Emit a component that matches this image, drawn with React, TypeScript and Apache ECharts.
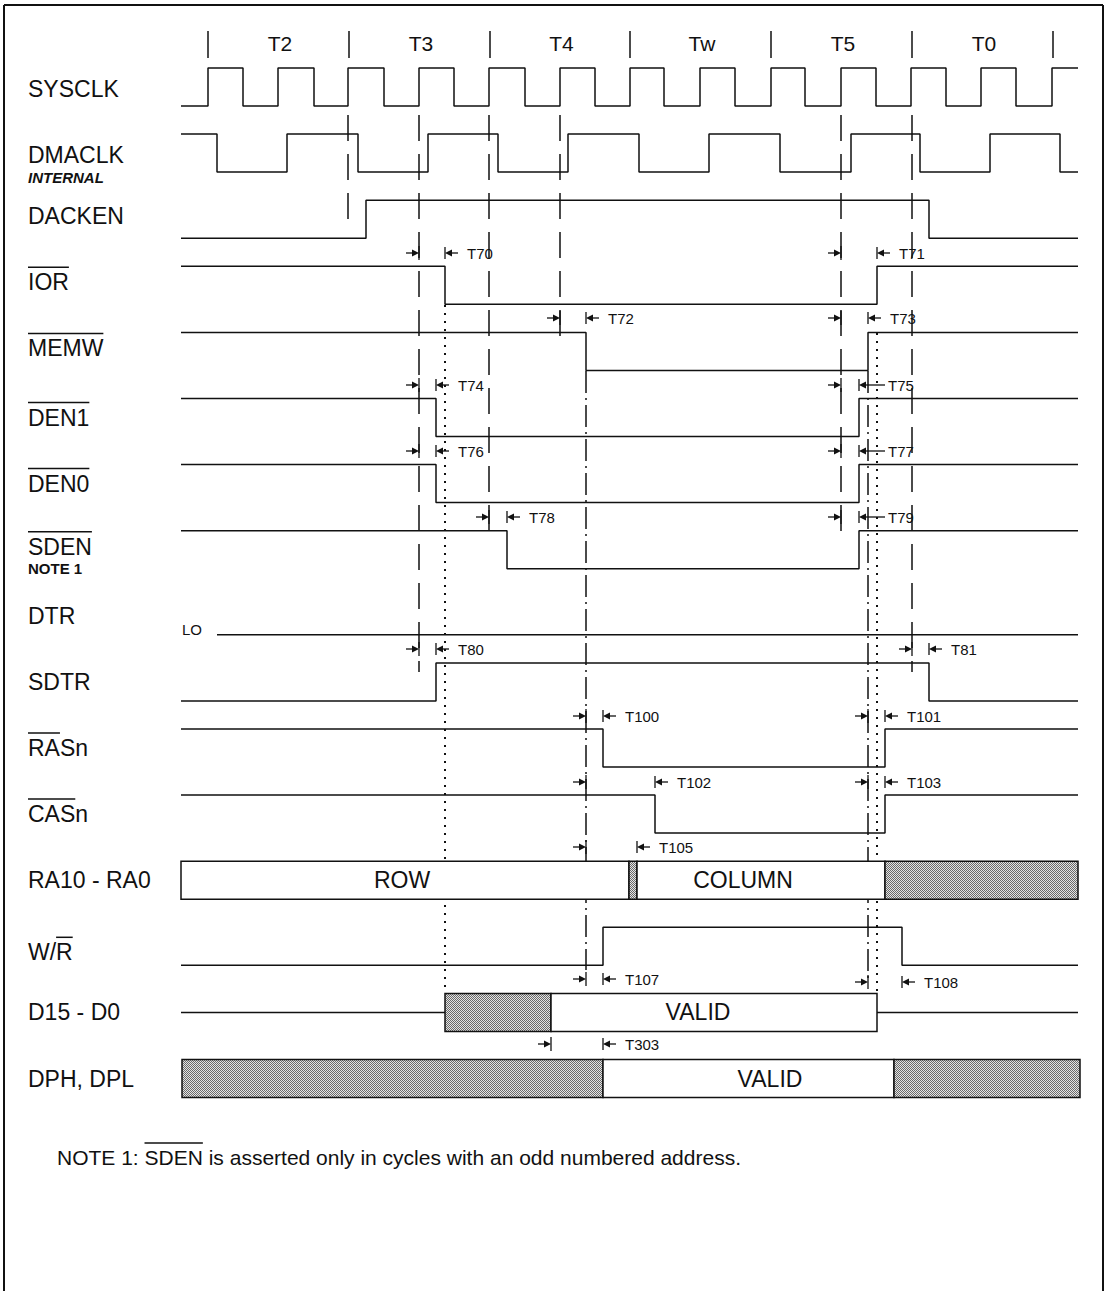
import React, { useEffect, useRef } from "react";
import * as echarts from "echarts";

// ---------------- data ----------------
const STATE_BOUNDS = [208, 349, 490, 630, 771, 912, 1053];
const STATE_LABELS = ["T2", "T3", "T4", "Tw", "T5", "T0"];

const SIGNAL_LABELS = [
  "SYSCLK", "DMACLK", "DACKEN", "IOR", "MEMW", "DEN1", "DEN0", "SDEN",
  "DTR", "SDTR", "RASn", "CASn", "RA10 - RA0", "W/R", "D15 - D0", "DPH, DPL",
];
const SUB_LABELS: Record<number, string> = { 1: "INTERNAL", 7: "NOTE 1" };
// [unbarred prefix, barred part]
const OVERLINES: Record<string, [string, string]> = {
  IOR: ["", "IOR"], MEMW: ["", "MEMW"], DEN1: ["", "DEN1"], DEN0: ["", "DEN0"],
  SDEN: ["", "SDEN"], RASn: ["", "RA"], CASn: ["", "CAS"], "W/R": ["W/", "R"],
};

const TRACE_START = 181;
const TRACE_END = 1078;
const SYSCLK_EDGES = [208, 243, 278, 314, 348, 384, 419, 454, 489, 525, 560, 595, 630, 664, 700, 735, 771, 805, 841, 876, 911, 946, 981, 1016, 1052];
const DMACLK_EDGES = [217, 287, 358, 428, 498, 568, 639, 709, 780, 851, 920, 990, 1060];
const DACKEN_EDGES = [366, 929];
const IOR_EDGES = [445, 877];
const MEMW_EDGES = [586, 868];
const DEN1_EDGES = [436, 859];
const DEN0_EDGES = [436, 859];
const SDEN_EDGES = [507, 859];
const DTR_EDGES: number[] = [];
const SDTR_EDGES = [436, 929];
const RAS_EDGES = [603, 885];
const CAS_EDGES = [655, 885];
const WR_EDGES = [603, 902];

// [row, initial level (1 = high), edges, start]
const WAVES: [number, number, number[], number][] = [
  [0, 0, SYSCLK_EDGES, TRACE_START],
  [1, 1, DMACLK_EDGES, TRACE_START],
  [2, 0, DACKEN_EDGES, TRACE_START],
  [3, 1, IOR_EDGES, TRACE_START],
  [4, 1, MEMW_EDGES, TRACE_START],
  [5, 1, DEN1_EDGES, TRACE_START],
  [6, 1, DEN0_EDGES, TRACE_START],
  [7, 1, SDEN_EDGES, TRACE_START],
  [8, 0, DTR_EDGES, 217],
  [9, 0, SDTR_EDGES, TRACE_START],
  [10, 1, RAS_EDGES, TRACE_START],
  [11, 1, CAS_EDGES, TRACE_START],
  [13, 0, WR_EDGES, TRACE_START],
];

// bus segments: [from, to, text ("" = undefined / hatched), text centre]
const RA_SEGMENTS: [number, number, string, number][] = [
  [181, 629, "ROW", 402], [629, 637, "", 0], [637, 885, "COLUMN", 743], [885, 1078, "", 0],
];
const D_SEGMENTS: [number, number, string, number][] = [
  [445, 551, "", 0], [551, 877, "VALID", 698],
];
const D_IDLE: [number, number][] = [[181, 445], [877, 1078]];
const DP_SEGMENTS: [number, number, string, number][] = [
  [182, 603, "", 0], [603, 894, "VALID", 770], [894, 1080, "", 0],
];

// guides: [x, yFrom, yTo]
const GUIDES_DASHED = [[348, 115, 225], [419, 115, 672], [489, 115, 540], [560, 115, 342], [841, 115, 540], [912, 115, 672]];
const GUIDES_DASHDOT = [[586, 371, 970], [868, 371, 982]];
const GUIDES_DOTTED = [[445, 305, 993], [877, 333, 993]];

// timing annotations: [name, y, reference x, edge x]
const TIMINGS: [string, number, number, number][] = [
  ["T70", 253, 419, 445], ["T71", 253, 841, 877],
  ["T72", 318, 560, 586], ["T73", 318, 841, 868],
  ["T74", 385, 419, 436], ["T75", 385, 841, 859],
  ["T76", 451, 419, 436], ["T77", 451, 841, 859],
  ["T78", 517, 489, 507], ["T79", 517, 841, 859],
  ["T80", 649, 419, 436], ["T81", 649, 912, 929],
  ["T100", 716, 586, 603], ["T101", 716, 868, 885],
  ["T102", 782, 586, 655], ["T103", 782, 868, 885],
  ["T105", 847, 586, 637],
  ["T107", 979, 586, 603], ["T108", 982, 868, 902],
  ["T303", 1044, 551, 603],
];
const LONG_TAIL = ["T75", "T77", "T79"];

const NOTE_TEXT = "NOTE 1: SDEN is asserted only in cycles with an odd numbered address.";

// ---------------- layout ----------------
const W = 1111;
const H = 1291;
const FONT = '"Liberation Sans", Arial, Helvetica, sans-serif';
const INK = "#111";
const ROW_TOP0 = 68;
const ROW_PITCH = 66.1;
const ROW_H = 38;
const LABEL_X = 28;
const LABEL_DY: Record<number, number> = { 0: 21, 1: 21, 2: 16, 3: 16, 4: 16, 7: 16, 13: 25 };
const rowTop = (r: number) => ROW_TOP0 + ROW_PITCH * r;

let measureCtx: CanvasRenderingContext2D | null = null;
function textWidth(t: string, size: number, weight = "normal") {
  if (!t) return 0;
  if (!measureCtx) measureCtx = document.createElement("canvas").getContext("2d");
  if (!measureCtx) return t.length * size * 0.6;
  measureCtx.font = `${weight} ${size}px "Liberation Sans", Arial, sans-serif`;
  return measureCtx.measureText(t).width;
}

function makeHatch(): any {
  try {
    const c = document.createElement("canvas");
    c.width = 2;
    c.height = 2;
    const g = c.getContext("2d");
    if (!g) return "#b4b4b4";
    g.fillStyle = "#e4e4e4";
    g.fillRect(0, 0, 2, 2);
    g.fillStyle = "#6a6a6a";
    g.fillRect(0, 0, 1, 1);
    g.fillRect(1, 1, 1, 1);
    return { image: c, repeat: "repeat", imageWidth: 2, imageHeight: 2 };
  } catch (e) {
    return "#b4b4b4";
  }
}

function wavePoints(row: number, init: number, edges: number[], start: number) {
  const hi = rowTop(row);
  const lo = hi + ROW_H;
  const yOf = (l: number) => (l ? hi : lo);
  let level = init;
  const pts: number[][] = [[start, yOf(level)]];
  for (const e of edges) {
    pts.push([e, yOf(level)]);
    level = 1 - level;
    pts.push([e, yOf(level)]);
  }
  pts.push([TRACE_END, yOf(level)]);
  return pts;
}

function lineSeries(data: number[][], width: number, type: any = "solid", z = 2) {
  return {
    type: "line",
    data,
    symbol: "none",
    showSymbol: false,
    silent: true,
    z,
    lineStyle: { color: INK, width, type, cap: "butt" },
    emphasis: { disabled: true },
  };
}

function buildOption() {
  const hatch = makeHatch();
  const series: any[] = [];

  // guides
  GUIDES_DASHED.forEach(([x, a, b]) => series.push(lineSeries([[x, a], [x, b]], 1.5, [26, 13], 1)));
  GUIDES_DASHDOT.forEach(([x, a, b]) => series.push(lineSeries([[x, a], [x, b]], 1.5, [22, 5, 2, 5], 1)));
  GUIDES_DOTTED.forEach(([x, a, b]) => series.push(lineSeries([[x, a], [x, b]], 2, [2, 6], 1)));

  // waveforms
  WAVES.forEach(([row, init, edges, start]) => series.push(lineSeries(wavePoints(row, init, edges, start), 1.5)));
  D_IDLE.forEach(([a, b]) => {
    const y = rowTop(14) + ROW_H / 2;
    series.push(lineSeries([[a, y], [b, y]], 1.5));
  });

  // buses
  const busItems: { row: number; seg: [number, number, string, number] }[] = [];
  RA_SEGMENTS.forEach((s) => busItems.push({ row: 12, seg: s }));
  D_SEGMENTS.forEach((s) => busItems.push({ row: 14, seg: s }));
  DP_SEGMENTS.forEach((s) => busItems.push({ row: 15, seg: s }));
  series.push({
    type: "custom",
    z: 3,
    silent: true,
    data: busItems.map((it) => [it.seg[0], rowTop(it.row), it.seg[1], rowTop(it.row) + ROW_H]),
    encode: { x: [0, 2], y: [1, 3] },
    renderItem: (params: any, api: any) => {
      const it = busItems[params.dataIndex];
      const p1 = api.coord([api.value(0), api.value(1)]);
      const p2 = api.coord([api.value(2), api.value(3)]);
      const children: any[] = [
        {
          type: "rect",
          shape: { x: p1[0], y: p1[1], width: p2[0] - p1[0], height: p2[1] - p1[1] },
          style: { fill: it.seg[2] ? "#fff" : hatch, stroke: INK, lineWidth: 1.5 },
        },
      ];
      if (it.seg[2]) {
        const c = api.coord([it.seg[3], (api.value(1) + api.value(3)) / 2]);
        children.push({
          type: "text",
          x: c[0],
          y: c[1],
          style: { text: it.seg[2], fontSize: 23, fontFamily: FONT, fill: INK, align: "center", verticalAlign: "middle" },
        });
      }
      return { type: "group", children };
    },
  });

  // timing annotations
  series.push({
    type: "custom",
    z: 4,
    silent: true,
    data: TIMINGS.map((t) => [t[2], t[1], t[3]]),
    encode: { x: [0, 2], y: 1 },
    renderItem: (params: any, api: any) => {
      const name = TIMINGS[params.dataIndex][0];
      const a = api.coord([api.value(0), api.value(1)]);
      const b = api.coord([api.value(2), api.value(1)]);
      const y = a[1];
      const long = LONG_TAIL.indexOf(name) >= 0;
      const tail = long ? 26 : 13;
      const gap = long ? 29 : 22;
      const st = { stroke: INK, lineWidth: 1.3 };
      return {
        type: "group",
        children: [
          { type: "line", shape: { x1: a[0] - 13, y1: y, x2: a[0] - 5, y2: y }, style: st },
          { type: "polygon", shape: { points: [[a[0], y], [a[0] - 7, y - 3.5], [a[0] - 7, y + 3.5]] }, style: { fill: INK } },
          { type: "line", shape: { x1: a[0], y1: y - 7, x2: a[0], y2: y + 7 }, style: st },
          { type: "line", shape: { x1: b[0], y1: y - 6, x2: b[0], y2: y + 6 }, style: st },
          { type: "polygon", shape: { points: [[b[0], y], [b[0] + 7, y - 3.5], [b[0] + 7, y + 3.5]] }, style: { fill: INK } },
          { type: "line", shape: { x1: b[0] + 5, y1: y, x2: b[0] + tail, y2: y }, style: st },
          {
            type: "text",
            x: b[0] + gap,
            y: y,
            style: { text: name, fontSize: 15, fontFamily: FONT, fill: INK, align: "left", verticalAlign: "middle" },
          },
        ],
      };
    },
  });

  // T-state markers
  series.push({
    type: "custom",
    z: 4,
    silent: true,
    data: STATE_BOUNDS.map((x) => [x, 31, 58]),
    encode: { x: 0, y: [1, 2] },
    renderItem: (params: any, api: any) => {
      const p1 = api.coord([api.value(0), api.value(1)]);
      const p2 = api.coord([api.value(0), api.value(2)]);
      return { type: "line", shape: { x1: p1[0], y1: p1[1], x2: p2[0], y2: p2[1] }, style: { stroke: INK, lineWidth: 1.5 } };
    },
  });
  series.push({
    type: "custom",
    z: 4,
    silent: true,
    data: STATE_LABELS.map((_, i) => [(STATE_BOUNDS[i] + STATE_BOUNDS[i + 1]) / 2 + 1.5, 43]),
    renderItem: (params: any, api: any) => {
      const p = api.coord([api.value(0), api.value(1)]);
      return {
        type: "text",
        x: p[0],
        y: p[1],
        style: { text: STATE_LABELS[params.dataIndex], fontSize: 21, fontFamily: FONT, fill: INK, align: "center", verticalAlign: "middle" },
      };
    },
  });

  // signal names
  series.push({
    type: "custom",
    z: 5,
    silent: true,
    data: SIGNAL_LABELS.map((_, i) => [LABEL_X, rowTop(i) + (LABEL_DY[i] ?? 19)]),
    renderItem: (params: any, api: any) => {
      const i = params.dataIndex;
      const name = SIGNAL_LABELS[i];
      const p = api.coord([api.value(0), api.value(1)]);
      const children: any[] = [
        {
          type: "text",
          x: p[0],
          y: p[1],
          style: { text: name, fontSize: 23, fontFamily: FONT, fill: INK, align: "left", verticalAlign: "middle" },
        },
      ];
      const ov = OVERLINES[name];
      if (ov) {
        const x0 = p[0] + textWidth(ov[0], 23);
        const x1 = x0 + textWidth(ov[1], 23);
        children.push({ type: "line", shape: { x1: x0, y1: p[1] - 15, x2: x1, y2: p[1] - 15 }, style: { stroke: INK, lineWidth: 1.5 } });
      }
      const sub = SUB_LABELS[i];
      if (sub) {
        children.push({
          type: "text",
          x: p[0],
          y: p[1] + 22,
          style: {
            text: sub,
            fontSize: 15,
            fontWeight: "bold",
            fontStyle: i === 1 ? "italic" : "normal",
            fontFamily: FONT,
            fill: INK,
            align: "left",
            verticalAlign: "middle",
          },
        });
      }
      return { type: "group", children };
    },
  });

  const noteX = 57;
  const noteY = 1157;
  const barX0 = noteX + textWidth("NOTE 1: ", 21);
  const barX1 = barX0 + textWidth("SDEN", 21);

  return {
    animation: false,
    backgroundColor: "#fff",
    grid: { left: 0, top: 0, right: 0, bottom: 0, containLabel: false },
    xAxis: { type: "value", min: 0, max: W, show: false },
    yAxis: { type: "value", min: 0, max: H, inverse: true, show: false },
    series,
    graphic: [
      { type: "line", shape: { x1: 4, y1: 5, x2: 1103, y2: 5 }, style: { stroke: INK, lineWidth: 2 } },
      { type: "line", shape: { x1: 4, y1: 5, x2: 4, y2: H }, style: { stroke: INK, lineWidth: 2 } },
      { type: "line", shape: { x1: 1103, y1: 5, x2: 1103, y2: H }, style: { stroke: INK, lineWidth: 2 } },
      {
        type: "text",
        x: 182,
        y: 629,
        style: { text: "LO", fontSize: 15, fontFamily: FONT, fill: INK, align: "left", verticalAlign: "middle" },
      },
      {
        type: "text",
        x: noteX,
        y: noteY,
        style: { text: NOTE_TEXT, fontSize: 21, fontFamily: FONT, fill: INK, align: "left", verticalAlign: "middle" },
      },
      { type: "line", shape: { x1: barX0, y1: noteY - 14, x2: barX1, y2: noteY - 14 }, style: { stroke: INK, lineWidth: 1.5 } },
    ],
  };
}

export default function App() {
  const ref = useRef<HTMLDivElement>(null);
  useEffect(() => {
    if (!ref.current) return;
    const chart = echarts.init(ref.current, null, { renderer: "svg" });
    chart.setOption(buildOption() as any);
    return () => chart.dispose();
  }, []);
  return (
    <div
      ref={ref}
      style={{ position: "absolute", left: 0, top: 0, width: W, height: H, background: "#fff" }}
    />
  );
}
